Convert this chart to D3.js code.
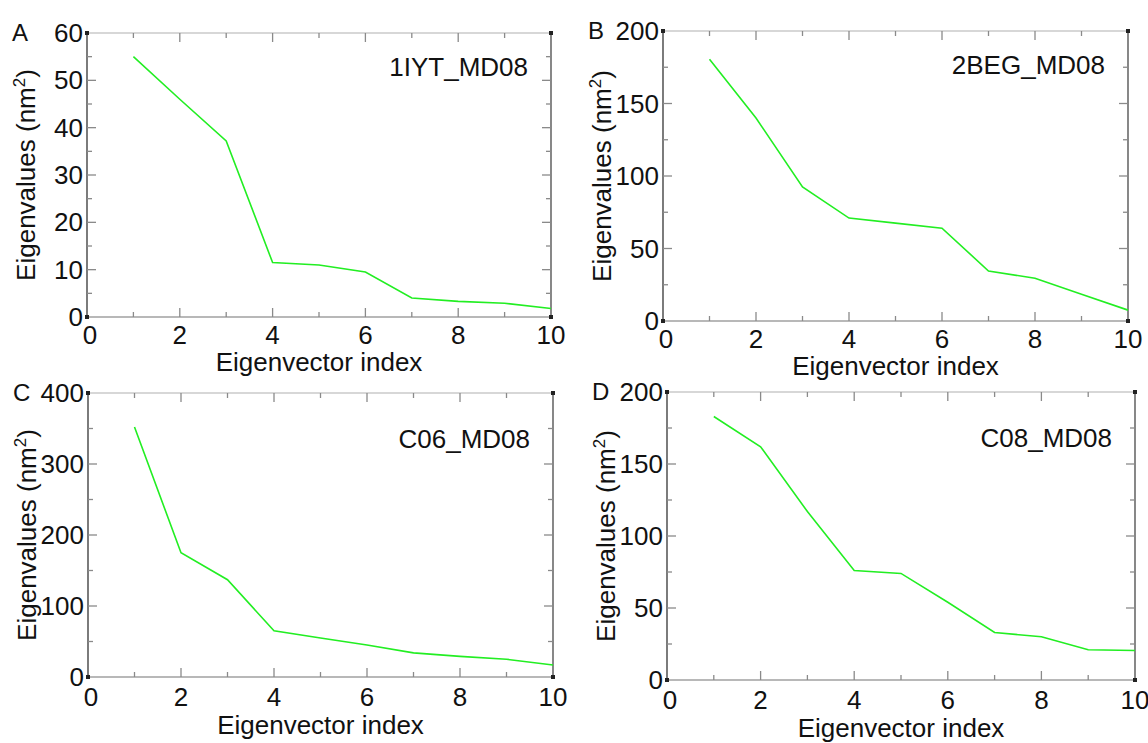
<!DOCTYPE html>
<html>
<head>
<meta charset="utf-8">
<script src="https://cdn.jsdelivr.net/npm/d3@7"></script>
<style>
  body { margin: 0; background: #fff; }
  svg text { font-family: "Liberation Sans", Arial, sans-serif; fill: #111; }
</style>
</head>
<body>
<div class="chart"></div>
<script>
// eigenvector index 1..10
var indices = [1, 2, 3, 4, 5, 6, 7, 8, 9, 10];

// eigenvalues
var valuesA = [55, 46, 37.2, 11.5, 11, 9.5, 4, 3.3, 2.9, 1.8];
var valuesB = [180.5, 140, 92.5, 71, 67.5, 64, 34.5, 29.5, 18.5, 7.5];
var valuesC = [352, 175, 137, 65, 55, 45, 34, 29, 25, 17];
var valuesD = [183, 162, 117, 76, 74, 54, 33, 30, 21, 20.5];

var panelLetters = ["A", "B", "C", "D"];
var panelNames = ["1IYT_MD08", "2BEG_MD08", "C06_MD08", "C08_MD08"];
var yMaxes = [60, 200, 400, 200];
var yMajorSteps = [10, 50, 100, 50];
var xTicks = [0, 2, 4, 6, 8, 10];

var svgWidth = 1148, svgHeight = 743;

var svg = d3.select(".chart")
    .append("svg")
    .attr("width", svgWidth)
    .attr("height", svgHeight);

// plot box for each panel (pixel frame, not data)
var boxes = [
    {left: 87, right: 551, top: 33, bottom: 317},
    {left: 663, right: 1128, top: 31, bottom: 321},
    {left: 88, right: 553, top: 393, bottom: 677},
    {left: 667, right: 1135, top: 392, bottom: 680}
];

var allValues = [valuesA, valuesB, valuesC, valuesD];

boxes.forEach(function(box, p) {
    drawPanel(box, allValues[p], p);
});

function drawPanel(box, values, p) {
    var chartWidth = box.right - box.left;
    var chartHeight = box.bottom - box.top;
    var fs = 26;
    var topRow = p < 2;

    var g = svg.append("g")
        .attr("transform", `translate(${box.left}, ${box.top})`);

    var xScale = d3.scaleLinear().domain([0, 10]).range([0, chartWidth]);
    var yScale = d3.scaleLinear().domain([0, yMaxes[p]]).range([chartHeight, 0]);

    var step = yMajorSteps[p];
    var yMajor = d3.range(0, yMaxes[p] + step / 2, step);
    var yMinor = d3.range(step / 2, yMaxes[p], step);
    var xMinor = [1, 3, 5, 7, 9];

    // frame: top/bottom light, left/right dark
    g.append("line").attr("x1", 0).attr("x2", chartWidth).attr("y1", 0).attr("y2", 0)
        .attr("stroke", "#b0b0b0").attr("stroke-width", 1.2);
    g.append("line").attr("x1", 0).attr("x2", chartWidth).attr("y1", chartHeight).attr("y2", chartHeight)
        .attr("stroke", "#a0a0a0").attr("stroke-width", 1.4);
    g.append("line").attr("x1", 0).attr("x2", 0).attr("y1", 0).attr("y2", chartHeight)
        .attr("stroke", "#444").attr("stroke-width", 1.4);
    g.append("line").attr("x1", chartWidth).attr("x2", chartWidth).attr("y1", 0).attr("y2", chartHeight)
        .attr("stroke", "#555").attr("stroke-width", 1.4);

    var tickColor = "#8a8a8a";

    // x ticks, bottom pointing up, top pointing down
    xTicks.slice(1, -1).concat(xMinor).forEach(function(t) {
        var len = (t % 2 === 0) ? 9 : 5;
        g.append("line").attr("x1", xScale(t)).attr("x2", xScale(t))
            .attr("y1", chartHeight).attr("y2", chartHeight - len)
            .attr("stroke", tickColor).attr("stroke-width", 1.3);
        g.append("line").attr("x1", xScale(t)).attr("x2", xScale(t))
            .attr("y1", 0).attr("y2", len)
            .attr("stroke", tickColor).attr("stroke-width", 1.3);
    });

    // y ticks, left pointing right, right pointing left
    yMajor.slice(1, -1).concat(yMinor).forEach(function(t) {
        var len = (t % step === 0) ? 9 : 5;
        g.append("line").attr("x1", 0).attr("x2", len)
            .attr("y1", yScale(t)).attr("y2", yScale(t))
            .attr("stroke", tickColor).attr("stroke-width", 1.3);
        g.append("line").attr("x1", chartWidth).attr("x2", chartWidth - len)
            .attr("y1", yScale(t)).attr("y2", yScale(t))
            .attr("stroke", tickColor).attr("stroke-width", 1.3);
    });

    // corner markers
    [[0, 0], [chartWidth, 0], [0, chartHeight], [chartWidth, chartHeight]].forEach(function(c) {
        g.append("rect").attr("x", c[0] - 2).attr("y", c[1] - 2)
            .attr("width", 4).attr("height", 4).attr("fill", "#222");
    });

    // tick labels
    g.selectAll(".xlab")
        .data(xTicks)
        .enter()
        .append("text")
        .attr("class", "xlab")
        .attr("x", d => xScale(d) + (d === 0 ? 3 : 0))
        .attr("y", chartHeight + (topRow ? 27 : 29))
        .attr("text-anchor", "middle")
        .attr("font-size", fs)
        .text(d => d);

    g.selectAll(".ylab")
        .data(yMajor)
        .enter()
        .append("text")
        .attr("class", "ylab")
        .attr("x", -4)
        .attr("y", d => yScale(d) + 9)
        .attr("text-anchor", "end")
        .attr("font-size", fs)
        .text(d => d);

    // axis titles
    g.append("text")
        .attr("x", chartWidth / 2)
        .attr("y", chartHeight + (topRow ? 54 : 57))
        .attr("text-anchor", "middle")
        .attr("font-size", fs)
        .text("Eigenvector index");

    var yTitle = g.append("text")
        .attr("transform", `translate(${-52}, ${chartHeight / 2}) rotate(-90)`)
        .attr("text-anchor", "middle")
        .attr("font-size", fs);
    yTitle.append("tspan").text("Eigenvalues (nm");
    yTitle.append("tspan").attr("font-size", 17).attr("dy", -10).text("2");
    yTitle.append("tspan").attr("dy", 10).text(")");

    // panel letter
    g.append("text")
        .attr("x", -75)
        .attr("y", 8)
        .attr("font-size", 24)
        .text(panelLetters[p]);

    // panel name
    g.append("text")
        .attr("x", chartWidth - 23)
        .attr("y", topRow ? 43 : 55)
        .attr("text-anchor", "end")
        .attr("font-size", fs)
        .text(panelNames[p]);

    // data line
    var line = d3.line()
        .x((d, i) => xScale(indices[i]))
        .y(d => yScale(d));

    g.append("path")
        .datum(values)
        .attr("d", line)
        .attr("fill", "none")
        .attr("stroke", "#22ee22")
        .attr("stroke-width", 1.6);
}
</script>
</body>
</html>
